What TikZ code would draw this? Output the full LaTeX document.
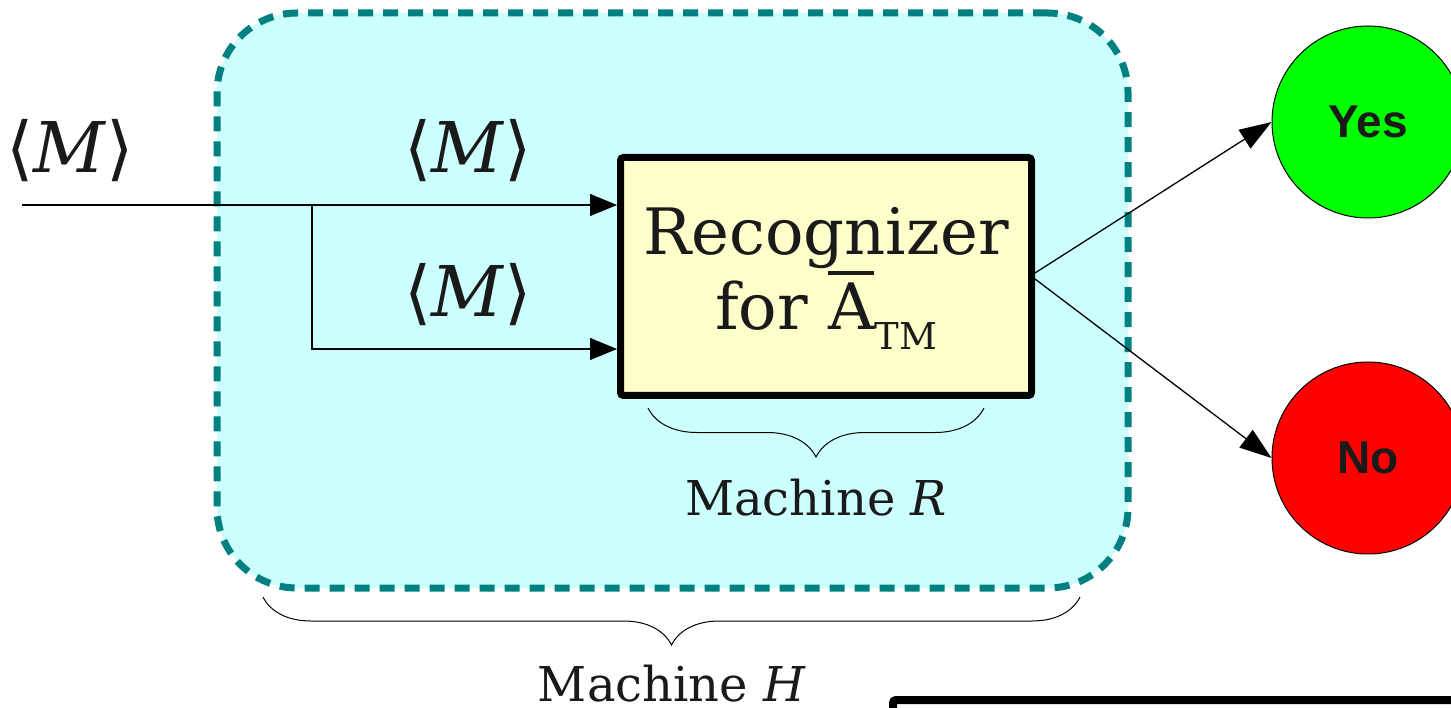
\documentclass[tikz,border=0pt]{standalone}
\usepackage{fontspec}
\setmainfont{DejaVu Serif}
\newfontfamily\bracketfont{DejaVu Sans}
\newfontfamily\answerfont{Liberation Sans}
\usetikzlibrary{arrows.meta,decorations.pathreplacing}

\definecolor{tealdash}{HTML}{008080}
\definecolor{palecyan}{HTML}{CCFFFF}
\definecolor{paleyellow}{HTML}{FFFFCC}
\definecolor{ink}{HTML}{1A1A1A}
\definecolor{yesgreen}{HTML}{00FF00}
\definecolor{nored}{HTML}{FF0000}

% encoding <M>
\newcommand{\encM}{{\bracketfont ⟨}\textit{M}{\bracketfont ⟩}}
% letter with a bar above it
\newcommand{\barletter}[1]{\leavevmode\setbox0\hbox{#1}%
  \rlap{\rule[\dimexpr\ht0+8pt\relax]{\wd0}{4pt}}\box0}

\tikzset{
  wire/.style={line width=1.3pt, draw=black},
  arr/.style={wire, -{Triangle[length=27pt,width=22pt]}},
  outarr/.style={wire, -{Triangle[length=32pt,width=22pt]}},
  hbox/.style={draw=tealdash, fill=palecyan, line width=7pt,
    dash pattern=on 15pt off 10pt, rounded corners=80pt,
    rectangle, inner sep=0pt},
  recbox/.style={draw=black, fill=paleyellow, line width=7pt,
    rounded corners=3pt, rectangle, inner sep=0pt,
    minimum width=411pt, minimum height=238pt},
  answer/.style={circle, draw=black, line width=1pt, minimum size=192pt,
    inner sep=0pt, text=ink, font=\answerfont\bfseries\fontsize{46}{50}\selectfont},
  enc/.style={text=ink, inner sep=0pt, anchor=base,
    font=\fontsize{70}{80}\selectfont},
  rectext/.style={text=ink, inner sep=0pt, anchor=base,
    font=\fontsize{64}{75}\selectfont},
  machinelabel/.style={text=ink, inner sep=0pt, anchor=base,
    font=\fontsize{48}{54}\selectfont},
  bracebelow/.style={line width=1pt, decorate,
    decoration={brace, mirror, amplitude=#1}},
}

\begin{document}
\begin{tikzpicture}[x=1pt, y=-1pt]
  \useasboundingbox (0,0) rectangle (1451,708);
  \clip (0,0) rectangle (1451,708);

  % machine H: dashed rounded frame
  \node[hbox, minimum width=911pt, minimum height=575pt] (H) at (672.5,300.5) {};

  % recognizer box
  \node[recbox] (rec) at (826,276.5) {};
  \node[rectext] (recA) at (826,255) {Recognizer};
  \node[rectext] (recB) at (826,330)
    {for \barletter{A}\raisebox{-20pt}{\fontsize{37}{40}\selectfont TM}};

  % inputs
  \coordinate (src) at (22,205);
  \coordinate (fork) at (312,205);
  \draw[arr] (src) -- ([yshift=71.5pt]rec.west);
  \draw[arr] (fork) |- ([yshift=-72.5pt]rec.west);

  \node[enc] (encIn) at (70,173) {\encM};
  \node[enc] (encUp) at (468,173) {\encM};
  \node[enc] (encLo) at (468,317) {\encM};

  % answers
  \node[answer, fill=yesgreen] (yes) at (1368,122) {Yes};
  \node[answer, fill=nored] (no) at (1368,458) {No};
  \draw[outarr] ([yshift=3.5pt]rec.east) -- (yes.west);
  \draw[outarr] ([yshift=-2.5pt]rec.east) -- (no.west);

  % braces and machine names
  \coordinate (rbL) at (648,408);
  \coordinate (rbR) at (984,408);
  \draw[bracebelow=49pt] (rbL) -- (rbR);
  \node[machinelabel] (mR) at (816,515) {Machine \textit{R}};

  \coordinate (hbL) at (263,597);
  \coordinate (hbR) at (1080,597);
  \draw[bracebelow=48pt] (hbL) -- (hbR);
  \node[machinelabel] (mH) at (672,701) {Machine \textit{H}};

  % next panel frame, partly visible
  \node[draw=black, fill=white, line width=8pt, rounded corners=3pt,
    rectangle, inner sep=0pt, minimum width=600pt, minimum height=80pt,
    anchor=north west] (nextbox) at (889,696) {};
\end{tikzpicture}
\end{document}
